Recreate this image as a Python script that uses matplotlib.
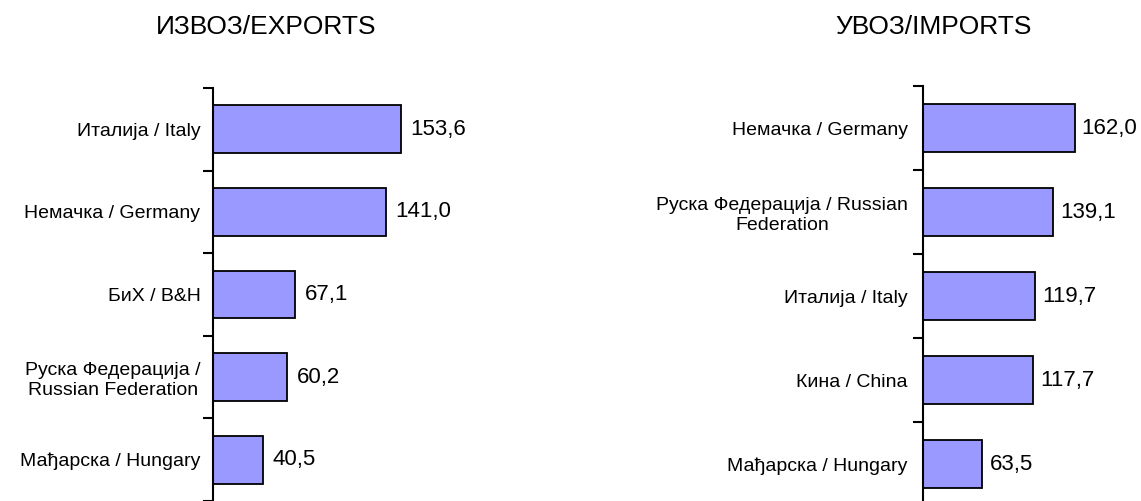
import matplotlib.pyplot as plt
import numpy as np

plt.rcParams['font.family'] = ['Liberation Sans', 'DejaVu Sans']

# Извоз / увоз по земљама (мил. EUR)
izvoz_zemlje = ['Италија / Italy', 'Немачка / Germany', 'БиХ / B&H',
                'Руска Федерација /\nRussian Federation', 'Мађарска / Hungary']
izvoz_vrednosti = [153.6, 141.0, 67.1, 60.2, 40.5]

uvoz_zemlje = ['Немачка / Germany', 'Руска Федерација / Russian\nFederation',
               'Италија / Italy', 'Кина / China', 'Мађарска / Hungary']
uvoz_vrednosti = [162.0, 139.1, 119.7, 117.7, 63.5]

fig = plt.figure(figsize=(11.41, 5.01), dpi=100)

# positions des axes (fraction de la figure)
ax1 = fig.add_axes([213 / 1141, 0.0, 300 / 1141, 413 / 501])
ax2 = fig.add_axes([923 / 1141, -5 / 501, 200 / 1141, 420 / 501])


def panneau(ax, zemlje, vrednosti, xmax, naslov, naslov_x, pad, vpad):
    n = len(zemlje)
    y = np.arange(n)
    bars = ax.barh(y, vrednosti, height=0.58, color='#9999ff',
                   edgecolor='black', linewidth=1.3)
    ax.bar_label(bars, labels=[f'{v:.1f}'.replace('.', ',') for v in vrednosti],
                 padding=vpad, fontsize=16)
    ax.set_xlim(0, xmax)
    ax.set_ylim(n - 0.5, -0.5)
    # graduations aux limites des catégories, étiquettes au centre
    ax.set_yticks(np.arange(n + 1) - 0.5)
    ax.set_yticklabels([])
    ax.set_yticks(y, minor=True)
    ax.set_yticklabels(zemlje, minor=True, fontsize=14)
    for lab in ax.get_yticklabels(minor=True):
        lab.set_multialignment('center')
    ax.tick_params(axis='y', which='major', length=7, width=1.5, direction='out')
    ax.tick_params(axis='y', which='minor', length=0, pad=pad)
    ax.set_xticks([])
    for s in ['top', 'right', 'bottom']:
        ax.spines[s].set_visible(False)
    ax.spines['left'].set_linewidth(1.5)
    fig.text(naslov_x, 1 - 27 / 501, naslov, ha='center', va='center', fontsize=19)


panneau(ax1, izvoz_zemlje, izvoz_vrednosti, 300 / 1.224, 'ИЗВОЗ/EXPORTS', 266 / 1141, 9, 7)
panneau(ax2, uvoz_zemlje, uvoz_vrednosti, 200 / 0.937, 'УВОЗ/IMPORTS', 933 / 1141, 11, 5)

fig.savefig('out.png', dpi=100)
